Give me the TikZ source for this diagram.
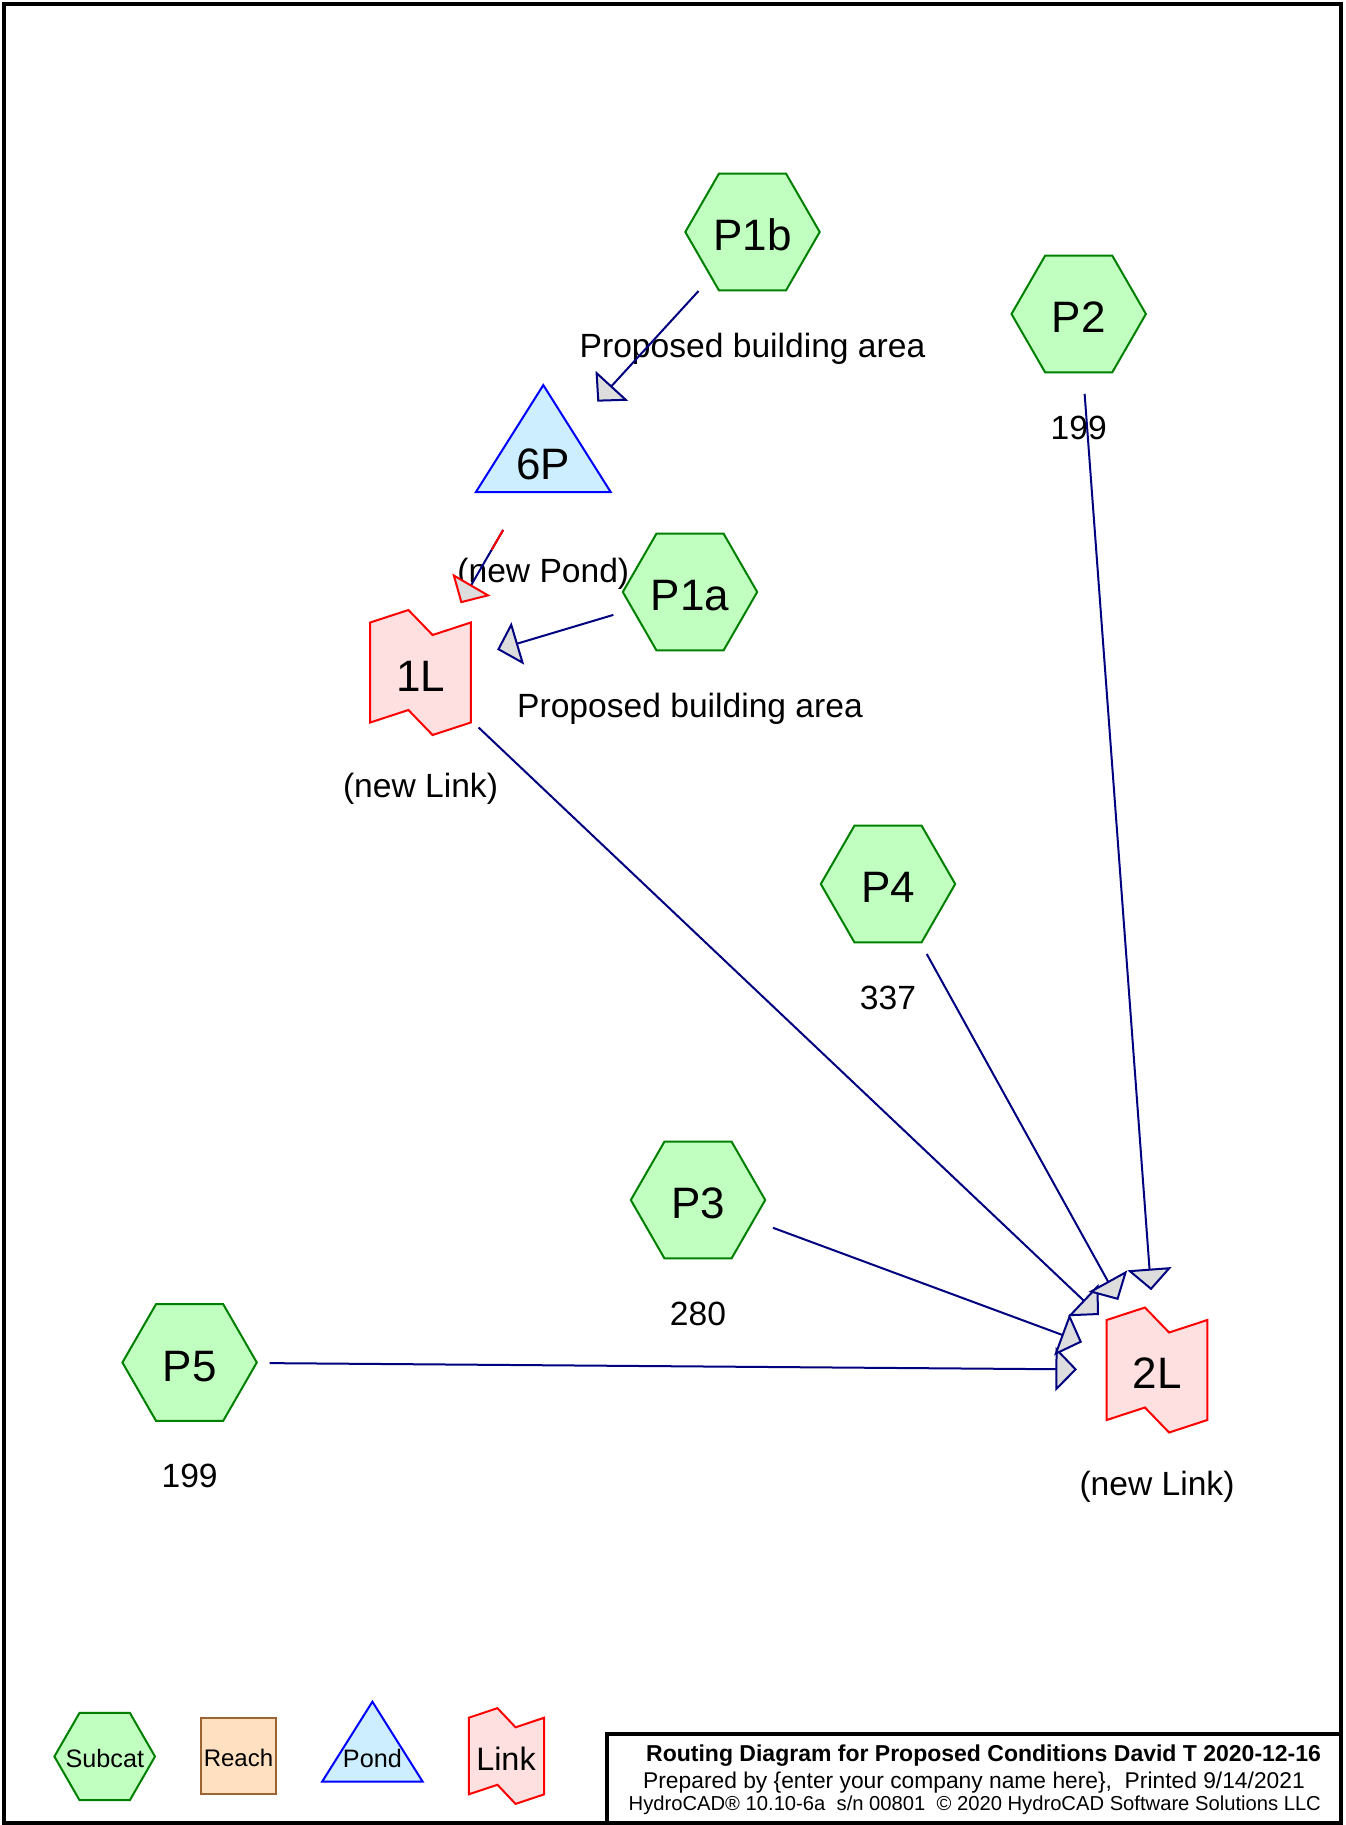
\documentclass[tikz,border=0pt]{standalone}
\usepackage{fontspec}
\setmainfont{Liberation Sans}
\usetikzlibrary{arrows.meta,calc}
\definecolor{HCsubfill}{HTML}{C0FFC0}
\definecolor{HCsubline}{HTML}{008000}
\definecolor{HCpondfill}{HTML}{CCEEFF}
\definecolor{HCpondline}{HTML}{0000FF}
\definecolor{HClinkfill}{HTML}{FFE0E0}
\definecolor{HClinkline}{HTML}{FF0000}
\definecolor{HCreachfill}{HTML}{FFE0C0}
\definecolor{HCreachline}{HTML}{9C6430}
\definecolor{HCflow}{HTML}{000080}
\definecolor{HCtip}{HTML}{DDDDDD}
\newcommand{\subcatshape}[4]{%
  \begin{scope}[shift={(#1,#2)}]
    \filldraw[subcat] (-#3,0) -- (-#3/2,-#4) -- (#3/2,-#4) -- (#3,0)
      -- (#3/2,#4) -- (-#3/2,#4) -- cycle;
  \end{scope}}
\newcommand{\pondshape}[5]{%
  \begin{scope}[shift={(#1,#2)}]
    \filldraw[pond] (0,-#4) -- (#3,#5) -- (-#3,#5) -- cycle;
  \end{scope}}
\newcommand{\linkshape}[4]{%
  \begin{scope}[shift={(#1,#2)}]
    \filldraw[linkbox] (-#3,-#4) -- (-0.24*#3,-1.25*#4) -- (0.24*#3,-0.75*#4)
      -- (#3,-#4) -- (#3,#4) -- (0.24*#3,1.25*#4) -- (-0.24*#3,0.75*#4)
      -- (-#3,#4) -- cycle;
  \end{scope}}
\begin{document}
\begin{tikzpicture}[
  x=0.5pt,y=-0.5pt,
  subcat/.style={fill=HCsubfill,draw=HCsubline,line width=1pt},
  pond/.style={fill=HCpondfill,draw=HCpondline,line width=1pt},
  linkbox/.style={fill=HClinkfill,draw=HClinkline,line width=1pt},
  reachbox/.style={fill=HCreachfill,draw=HCreachline,line width=1pt},
  flow/.style={draw=HCflow,line width=1pt,shorten <=40pt,shorten >=40pt,
    -{Triangle[length=10.8pt,width=22pt,fill=HCtip]}},
  nodeid/.style={font=\fontsize{22}{26}\selectfont,inner sep=0pt,
    text height=18.5pt,text depth=0pt},
  caption/.style={font=\fontsize{16.8}{20}\selectfont,inner sep=0pt,anchor=base},
  legend/.style={font=\fontsize{12.6}{15}\selectfont,inner sep=0pt,anchor=base},
  titleline/.style={font=\fontsize{11.4}{13}\selectfont,inner sep=0pt,anchor=base},
  frame/.style={draw=black,line width=2pt}
]
\useasboundingbox (0,0) rectangle (1345,1825);
\draw[frame] (4,4) rectangle (1341.3,1822.5);

% Subcatchments, pond and links
\subcatshape{752.5}{232}{67.2}{58.3}
\subcatshape{1078.7}{314}{67.2}{58.3}
\subcatshape{690}{592}{67.2}{58.3}
\subcatshape{888}{884}{67.2}{58.3}
\subcatshape{698}{1200}{67.2}{58.3}
\subcatshape{189.6}{1362.5}{67.2}{58.3}
\pondshape{543.3}{460.7}{67.5}{75.6}{31.5}
\linkshape{420.5}{672.5}{50.3}{50}
\linkshape{1157}{1370}{50.3}{50}

\node[nodeid] (P1b) at (752.5,232) {P1b};
\node[nodeid] (P2) at (1078.7,314) {P2};
\node[nodeid] (P1a) at (690,592) {P1a};
\node[nodeid] (P4) at (888,884) {P4};
\node[nodeid] (P3) at (698,1200) {P3};
\node[nodeid] (P5) at (189.6,1362.5) {P5};
\node[nodeid] (pond6P) at (543.3,460.7) {6P};
\node[nodeid] (link1L) at (420.5,672.5) {1L};
\node[nodeid] (link2L) at (1157,1370) {2L};

\node[caption] (P1b-cap) at (752.5,357) {Proposed building area};
\node[caption] (P2-cap) at (1078.7,439) {199};
\node[caption] (P1a-cap) at (690,717) {Proposed building area};
\node[caption] (P4-cap) at (888,1009) {337};
\node[caption] (P3-cap) at (698,1325) {280};
\node[caption] (P5-cap) at (189.6,1487.5) {199};
\node[caption] (pond6P-cap) at (543.3,582) {(new Pond)};
\node[caption] (link1L-cap) at (420.5,797.5) {(new Link)};
\node[caption] (link2L-cap) at (1157,1495) {(new Link)};

% Routing
\draw[flow] (P1b.center) -- (pond6P.center);
\draw[flow,-{Triangle[length=10.8pt,width=22pt,fill=HCtip,color=HClinkline]}]
  (pond6P.center) -- (link1L.center);
\draw[HClinkline,line width=1pt] ($(pond6P)!40pt!(link1L)$) -- ($(pond6P)!51.5pt!(link1L)$);
\draw[flow] (P1a.center) -- (link1L.center);
\draw[flow] (P5.center) -- (link2L.center);
\draw[flow] (P3.center) -- (link2L.center);
\draw[flow] (link1L.center) -- (link2L.center);
\draw[flow] (P4.center) -- (link2L.center);
\draw[flow] (P2.center) -- (link2L.center);

% Legend
\subcatshape{104.7}{1756.5}{50.3}{43.7}
\filldraw[reachbox] (200.9,1718.3) rectangle (276.3,1794.3);
\pondshape{372.4}{1759}{50.3}{57.3}{22.7}
\linkshape{506.5}{1756}{37.7}{38.3}
\node[legend] (legSubcat) at (104.8,1767.3) {Subcat};
\node[legend,font=\fontsize{12}{14}\selectfont] (legReach) at (238.5,1766.7) {Reach};
\node[legend] (legPond) at (372.4,1767.3) {Pond};
\node[legend,font=\fontsize{16.2}{19}\selectfont] (legLink) at (506,1770) {Link};

% Title block
\draw[frame] (607,1822.5) -- (607,1734) -- (1341.3,1734);
\node[titleline,font=\bfseries\fontsize{11.5}{13}\selectfont] (title) at (983.6,1761.6)
  {Routing Diagram for Proposed Conditions David T 2020-12-16};
\node[titleline] (prepared) at (974,1788.4)
  {Prepared by \{enter your company name here\},\ \ Printed 9/14/2021};
\node[titleline,font=\fontsize{10.1}{12}\selectfont] (version) at (974.8,1810.7)
  {HydroCAD® 10.10-6a\ \ s/n 00801\ \ © 2020 HydroCAD Software Solutions LLC};
\end{tikzpicture}
\end{document}
